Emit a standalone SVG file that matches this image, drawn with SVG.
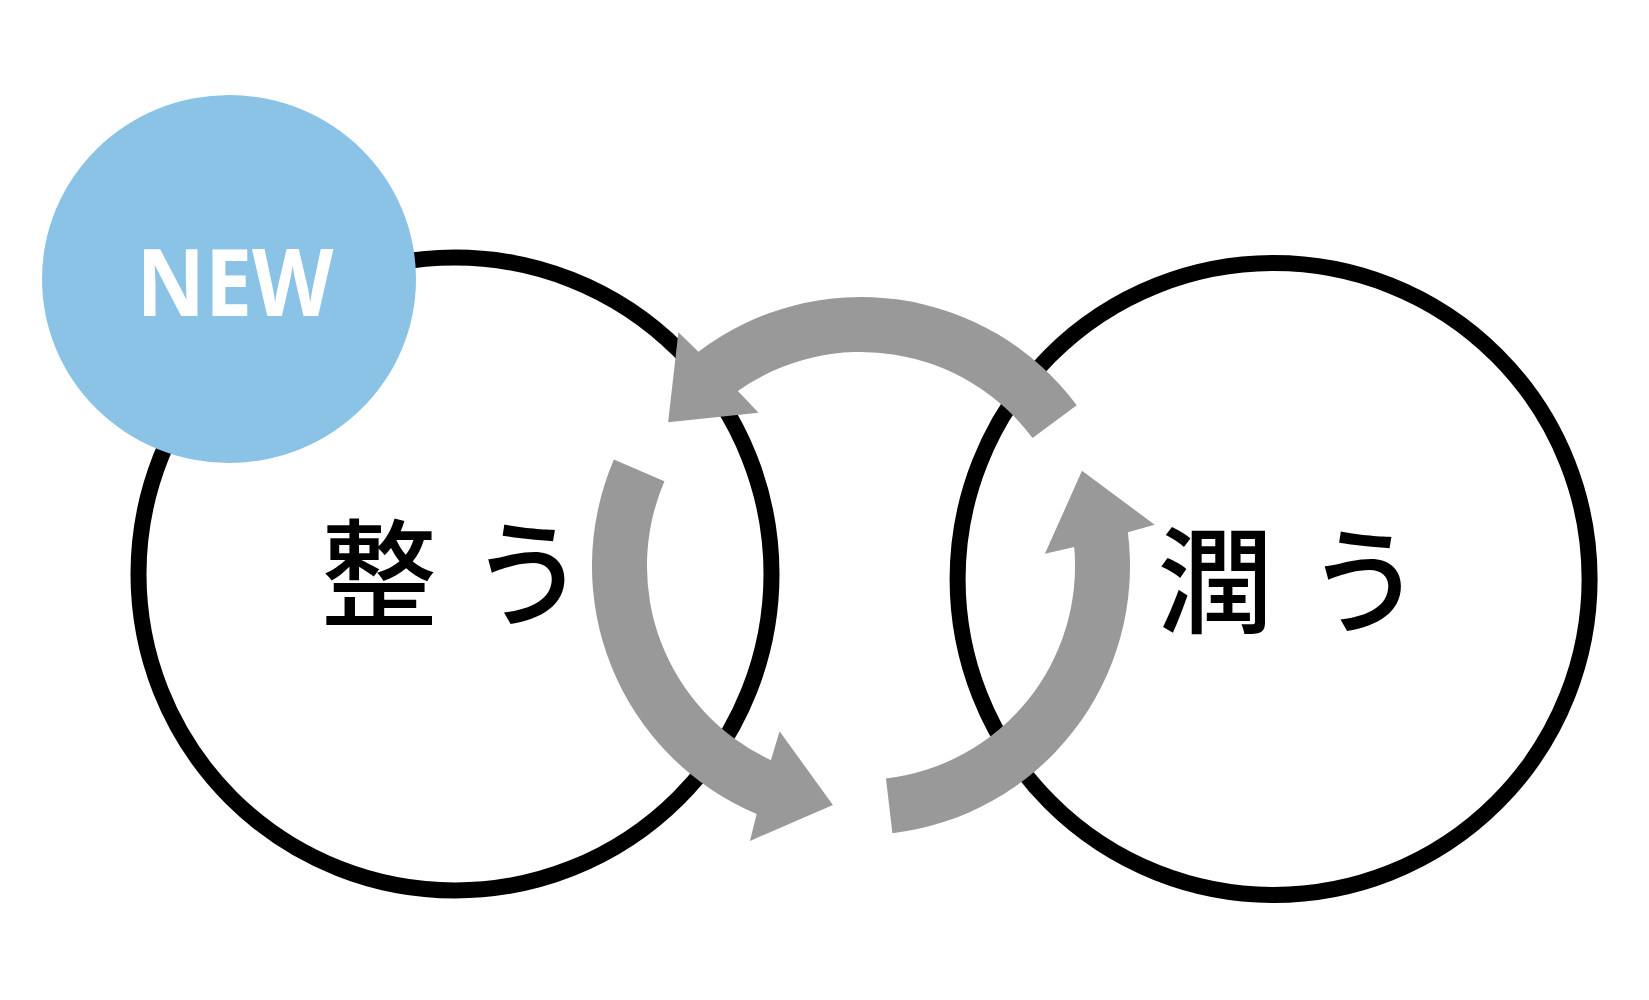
<svg xmlns="http://www.w3.org/2000/svg" xmlns:xlink="http://www.w3.org/1999/xlink" width="1649" height="1000" viewBox="0 0 1649 1000">
  <style>
    .ring { fill: #ffffff; stroke: #000000; stroke-width: 16; }
    .label { font-family: "Noto Sans CJK JP", "Noto Sans CJK SC", sans-serif; font-size: 116px; font-weight: 500; fill: #000000; }
    .badge { fill: #8BC3E6; }
    .badge-text { font-family: "Open Sans", "Liberation Sans", sans-serif; font-weight: bold; font-size: 94px; fill: #ffffff; }
    .arrow { fill: #999999; }
  </style>
  <defs>
    <path id="cycleArrow" class="arrow" d="M 1076.7 405.2 A 269 269 0 0 0 698.4 351.7 L 678.4 332.3 L 668.1 422.2 L 758.5 412.8 L 737.9 390.9 A 214 214 0 0 1 1032.6 438.1 Z"/>
  </defs>
  <rect width="1649" height="1000" fill="#ffffff"/>

  <g id="node-totonou">
    <circle class="ring" cx="455" cy="574" r="316.5"/>
    <text class="label" x="321" y="616.6">整 <tspan dx="7">う</tspan></text>
  </g>

  <g id="node-uruou">
    <circle class="ring" cx="1273.6" cy="579" r="316"/>
    <text class="label" x="1157.5" y="623.6">潤 <tspan dx="7">う</tspan></text>
  </g>

  <g id="node-new">
    <ellipse class="badge" cx="229" cy="279" rx="187" ry="184"/>
    <text class="badge-text" x="235" y="315.7" text-anchor="middle" textLength="197" lengthAdjust="spacingAndGlyphs">NEW</text>
  </g>

  <g id="connectors">
    <use xlink:href="#cycleArrow"/>
    <use xlink:href="#cycleArrow" transform="rotate(120 861 566)"/>
    <use xlink:href="#cycleArrow" transform="rotate(-120 861 566)"/>
  </g>
</svg>
